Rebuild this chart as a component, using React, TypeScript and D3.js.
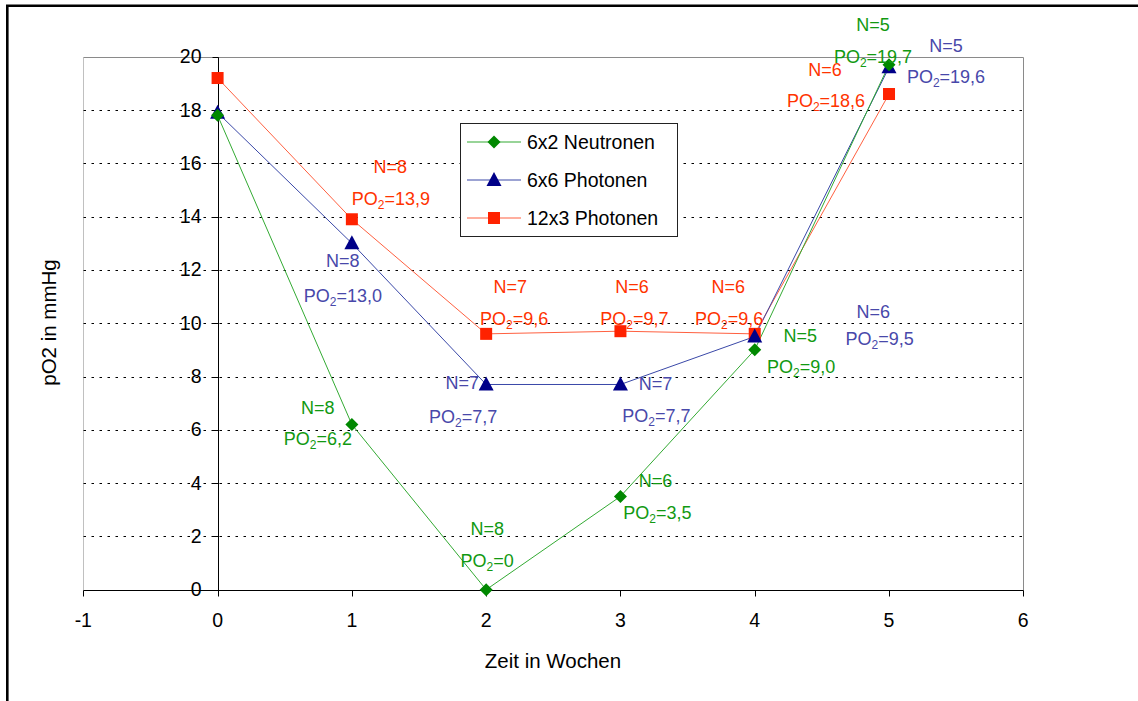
import React from "react";
import * as d3 from "d3";

// ---- data ----
const weeks = [0, 1, 2, 3, 4, 5];
const neutronen6x2 = [17.8, 6.2, 0, 3.5, 9.0, 19.7];
const photonen6x6 = [17.9, 13.0, 7.7, 7.7, 9.5, 19.6];
const photonen12x3 = [19.2, 13.9, 9.6, 9.7, 9.6, 18.6];
const nNeutronen6x2 = [null, 8, 8, 6, 5, 5];
const nPhotonen6x6 = [null, 8, 7, 7, 6, 5];
const nPhotonen12x3 = [null, 8, 7, 6, 6, 6];
const seriesNames = ["6x2 Neutronen", "6x6 Photonen", "12x3 Photonen"];
const xTicks = [-1, 0, 1, 2, 3, 4, 5, 6];
const yTicks = [0, 2, 4, 6, 8, 10, 12, 14, 16, 18, 20];
const xTitle = "Zeit in Wochen";
const yTitle = "pO2 in mmHg";

// label offsets (px) relative to each point: [nDx, nDy, poDx, poDy]
const offNeutronen = [null, [-34, -10.5, -34, 20.5], [1, -55, 1, -23], [35, -9.5, 37, 22.5], [45.5, -8, 46.5, 23], [-16, -34, -16, -2]];
const offPhotonen6 = [null, [-9, 23.5, -9, 58.5], [-24, 4.5, -23, 38.5], [35, 5.5, 36, 38], [118.5, -18.5, 125, 8.5], [57, -15.5, 57, 15.5]];
const offPhotonen12 = [null, [38.5, -46.5, 39, -14.5], [24, -41, 28, -9], [11.5, -38, 14, -6], [-26.5, -41, -25.5, -9], [-64, -18, -63, 13]];

const FONT = "'Liberation Sans', Arial, sans-serif";

const styles = [
  { line: "#33aa33", marker: "#008800", text: "#119911", shape: "diamond" },
  { line: "#3a48a8", marker: "#000088", text: "#4848aa", shape: "triangle" },
  { line: "#ff6040", marker: "#ff2200", text: "#ff3300", shape: "square" },
];

const fmt = (v: number) => (v === 0 ? "0" : v.toFixed(1).replace(".", ","));
const snap = (v: number) => Math.round(v) + 0.5;

function Marker({ shape, x, y, color }: { shape: string; x: number; y: number; color: string }) {
  if (shape === "diamond") {
    const s = 6.5;
    return <path d={`M${x},${y - s}L${x + s},${y}L${x},${y + s}L${x - s},${y}Z`} fill={color} />;
  }
  if (shape === "triangle") {
    return <path d={`M${x},${y - 8}L${x + 7.5},${y + 6}L${x - 7.5},${y + 6}Z`} fill={color} />;
  }
  return <rect x={x - 6} y={y - 6} width={12} height={12} fill={color} />;
}

export default function App() {
  const x = d3.scaleLinear().domain([-1, 6]).range([83.3, 1023.3]);
  const y = d3.scaleLinear().domain([0, 20]).range([589.7, 56.7]);
  const series = [neutronen6x2, photonen6x6, photonen12x3];
  const ns = [nNeutronen6x2, nPhotonen6x6, nPhotonen12x3];
  const offs = [offNeutronen, offPhotonen6, offPhotonen12];
  const line = d3
    .line<number>()
    .x((_, i) => x(weeks[i]))
    .y((d) => y(d));

  const drawOrder = [2, 1, 0];
  const left = snap(x(-1));
  const right = snap(x(6));
  const top = snap(y(20));
  const bottom = snap(y(0));
  const ax = snap(x(0));

  return (
    <svg
      width={1138}
      height={701}
      style={{ position: "absolute", left: 0, top: 0, background: "#fff" }}
      fontFamily={FONT}
    >
      <rect x={0} y={0} width={1138} height={701} fill="#fff" />
      {/* outer frame */}
      <line x1={7.3} y1={5.8} x2={7.3} y2={701} stroke="#000" strokeWidth={2.6} />
      <line x1={6} y1={5.8} x2={1138} y2={5.8} stroke="#000" strokeWidth={2.6} />

      {/* plot borders */}
      <line x1={left} y1={top} x2={left} y2={bottom} stroke="#c0c0c0" strokeWidth={1} />
      <line x1={left} y1={top} x2={right} y2={top} stroke="#8a8a8a" strokeWidth={1} />
      <line x1={right} y1={top} x2={right} y2={bottom} stroke="#8a8a8a" strokeWidth={1} />

      {/* gridlines */}
      {yTicks
        .filter((t) => t > 0 && t < 20)
        .map((t) => (
          <line
            key={"g" + t}
            x1={left}
            x2={right}
            y1={snap(y(t))}
            y2={snap(y(t))}
            stroke="#000"
            strokeWidth={1}
            strokeDasharray="2.5,5.5"
          />
        ))}

      {/* y axis at x=0 */}
      <line x1={ax} y1={top} x2={ax} y2={bottom} stroke="#000" strokeWidth={1} />
      {yTicks.map((t) => (
        <g key={"yt" + t}>
          <line x1={ax - 6} x2={ax} y1={snap(y(t))} y2={snap(y(t))} stroke="#000" strokeWidth={1} />
          <text x={201.5} y={y(t) + 6.5} textAnchor="end" fontSize={19.5} fill="#000">
            {t}
          </text>
        </g>
      ))}

      {/* x axis */}
      <line x1={left} y1={bottom} x2={right} y2={bottom} stroke="#000" strokeWidth={1.2} />
      {xTicks.map((t) => (
        <g key={"xt" + t}>
          <line x1={snap(x(t))} x2={snap(x(t))} y1={bottom} y2={bottom + 6} stroke="#000" strokeWidth={1} />
          <text x={x(t)} y={627} textAnchor="middle" fontSize={19.5} fill="#000">
            {t}
          </text>
        </g>
      ))}

      {/* axis titles */}
      <text x={553} y={668} textAnchor="middle" fontSize={20.5} fill="#000">
        {xTitle}
      </text>
      <text
        transform={`translate(56,322.5) rotate(-90)`}
        textAnchor="middle"
        fontSize={20.5}
        fill="#000"
      >
        {yTitle}
      </text>

      {/* lines */}
      {drawOrder.map((si) => (
        <path key={"l" + si} d={line(series[si]) || ""} fill="none" stroke={styles[si].line} strokeWidth={1} />
      ))}
      {/* markers */}
      {drawOrder.map((si) =>
        series[si].map((v, i) => (
          <Marker key={"m" + si + "-" + i} shape={styles[si].shape} x={x(weeks[i])} y={y(v)} color={styles[si].marker} />
        ))
      )}

      {/* annotations */}
      {series.map((s, si) =>
        s.map((v, i) => {
          const o = offs[si][i];
          const n = ns[si][i];
          if (!o || n == null) return null;
          const px = x(weeks[i]);
          const py = y(v);
          return (
            <g key={"a" + si + "-" + i} fill={styles[si].text} fontSize={18}>
              <text x={px + o[0]} y={py + o[1]} textAnchor="middle">
                {`N=${n}`}
              </text>
              <text x={px + o[2]} y={py + o[3]} textAnchor="middle">
                <tspan>PO</tspan>
                <tspan fontSize={12} dy={4}>
                  2
                </tspan>
                <tspan dy={-4}>{`=${fmt(v)}`}</tspan>
              </text>
            </g>
          );
        })
      )}

      {/* legend */}
      <rect x={460.5} y={123.5} width={217} height={113} fill="#fff" stroke="#222" strokeWidth={1} />
      {seriesNames.map((name, si) => {
        const cy = 142 + si * 38;
        return (
          <g key={"lg" + si}>
            <line x1={467} x2={521} y1={cy} y2={cy} stroke={styles[si].line} strokeWidth={1.2} />
            <Marker shape={styles[si].shape} x={494} y={cy} color={styles[si].marker} />
            <text x={527} y={cy + 7} fontSize={19.5} fill="#000">
              {name}
            </text>
          </g>
        );
      })}
    </svg>
  );
}
